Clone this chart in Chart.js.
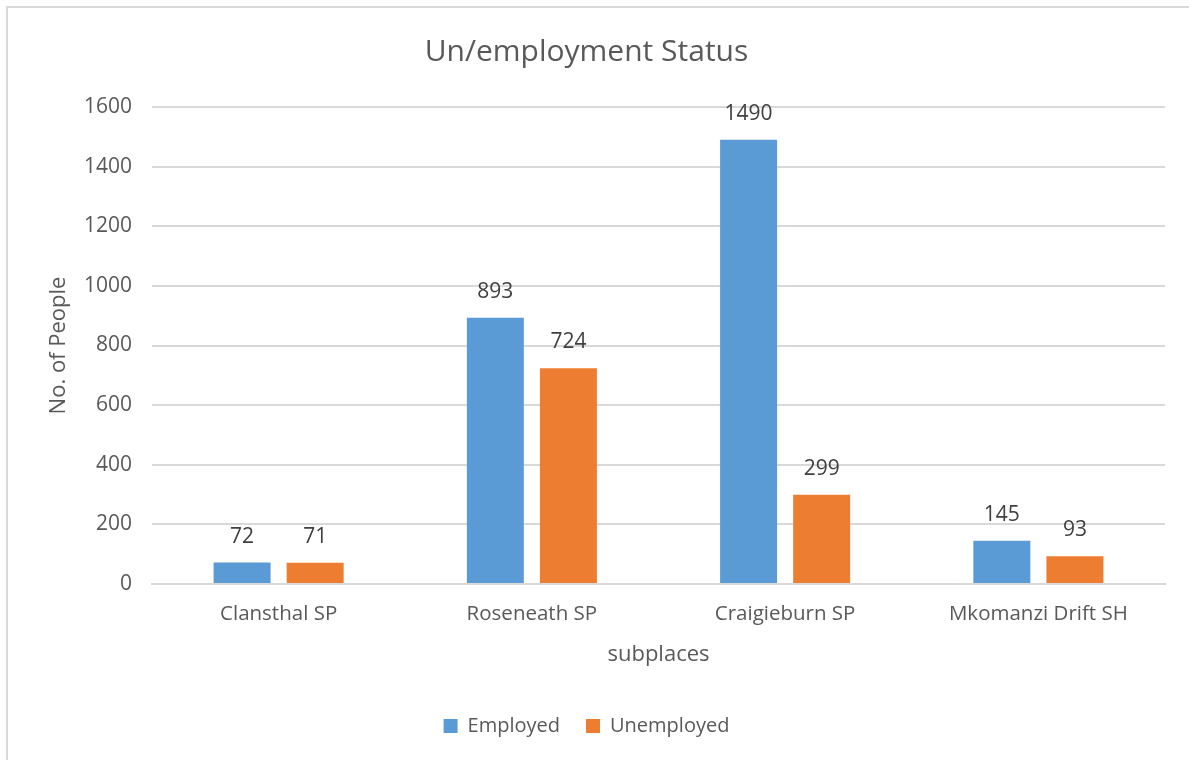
<!DOCTYPE html>
<html>
<head>
<meta charset="utf-8">
<title>Un/employment Status</title>
<script src="https://cdn.jsdelivr.net/npm/chart.js@4/dist/chart.umd.min.js"></script>
<style>
  html, body { margin: 0; padding: 0; background: #fff; overflow: hidden; }
  #frame {
    position: absolute; left: 6px; top: 6px;
    width: 1200px; height: 780px;
    border: 2px solid #d9d9d9; box-sizing: border-box;
  }
  #wrap { position: absolute; left: 0; top: 0; width: 1189px; height: 760px; }
</style>
</head>
<body>
<div id="frame"></div>
<div id="wrap"><canvas id="statusChart"></canvas></div>
<script>
(function(){
  var subplaces = ['Clansthal SP', 'Roseneath SP', 'Craigieburn SP', 'Mkomanzi Drift SH'];
  var employed = [72, 893, 1490, 145];
  var unemployed = [71, 724, 299, 93];
  var yTicks = [0, 200, 400, 600, 800, 1000, 1200, 1400, 1600];

  var textColor = '#595959';
  var fontFamily = '"Open Sans", Lato, sans-serif';

  // value labels above each bar
  var barLabels = {
    id: 'barLabels',
    afterDatasetsDraw: function(chart){
      var ctx = chart.ctx;
      ctx.save();
      ctx.font = '21px ' + fontFamily;
      ctx.fillStyle = '#404040';
      ctx.textAlign = 'center';
      ctx.textBaseline = 'middle';
      chart.data.datasets.forEach(function(ds, i){
        var meta = chart.getDatasetMeta(i);
        meta.data.forEach(function(bar, j){
          ctx.fillText(String(ds.data[j]), bar.x, bar.y - 26);
        });
      });
      ctx.restore();
    }
  };

  var ctx = document.getElementById('statusChart');
  new Chart(ctx, {
    type: 'bar',
    data: {
      labels: subplaces,
      datasets: [{
        label: 'Employed',
        data: employed,
        backgroundColor: '#5b9bd5',
        categoryPercentage: 0.577,
        barPercentage: 0.78
      }, {
        label: 'Unemployed',
        data: unemployed,
        backgroundColor: '#ed7d31',
        categoryPercentage: 0.577,
        barPercentage: 0.78
      }]
    },
    options: {
      responsive: true,
      maintainAspectRatio: false,
      animation: false,
      layout: { padding: { left: 8, right: 24, top: 0, bottom: 14 } },
      plugins: {
        title: {
          display: true,
          text: 'Un/employment Status',
          color: textColor,
          font: { family: fontFamily, size: 30, weight: 'normal' },
          padding: { top: 34, bottom: 37 }
        },
        legend: {
          position: 'bottom',
          labels: {
            color: textColor,
            font: { family: fontFamily, size: 20 },
            boxWidth: 14,
            boxHeight: 14,
            padding: 26
          }
        },
        tooltip: { enabled: false }
      },
      scales: {
        x: {
          grid: { display: false, drawTicks: false },
          border: { color: '#d9d9d9', width: 2 },
          ticks: { color: textColor, font: { family: fontFamily, size: 20.5 }, padding: 18 },
          title: {
            display: true,
            text: 'subplaces',
            color: textColor,
            font: { family: fontFamily, size: 22 },
            padding: { top: 10, bottom: 22 }
          },
          afterFit: function(scale){ scale.height = 106; }
        },
        y: {
          min: 0,
          max: 1600,
          afterBuildTicks: function(scale){
            scale.ticks = yTicks.map(function(v){ return { value: v }; });
          },
          grid: { color: '#d9d9d9', lineWidth: 2, drawTicks: false },
          border: { display: false },
          ticks: {
            color: textColor,
            font: { family: fontFamily, size: 21 },
            padding: 20,
            callback: function(v){ return String(v); }
          },
          title: {
            display: true,
            text: 'No. of People',
            color: textColor,
            font: { family: fontFamily, size: 22 },
            padding: { top: 38, bottom: 4 }
          },
          afterFit: function(scale){ scale.width = 144; }
        }
      }
    },
    plugins: [barLabels]
  });
})();
</script>
</body>
</html>
